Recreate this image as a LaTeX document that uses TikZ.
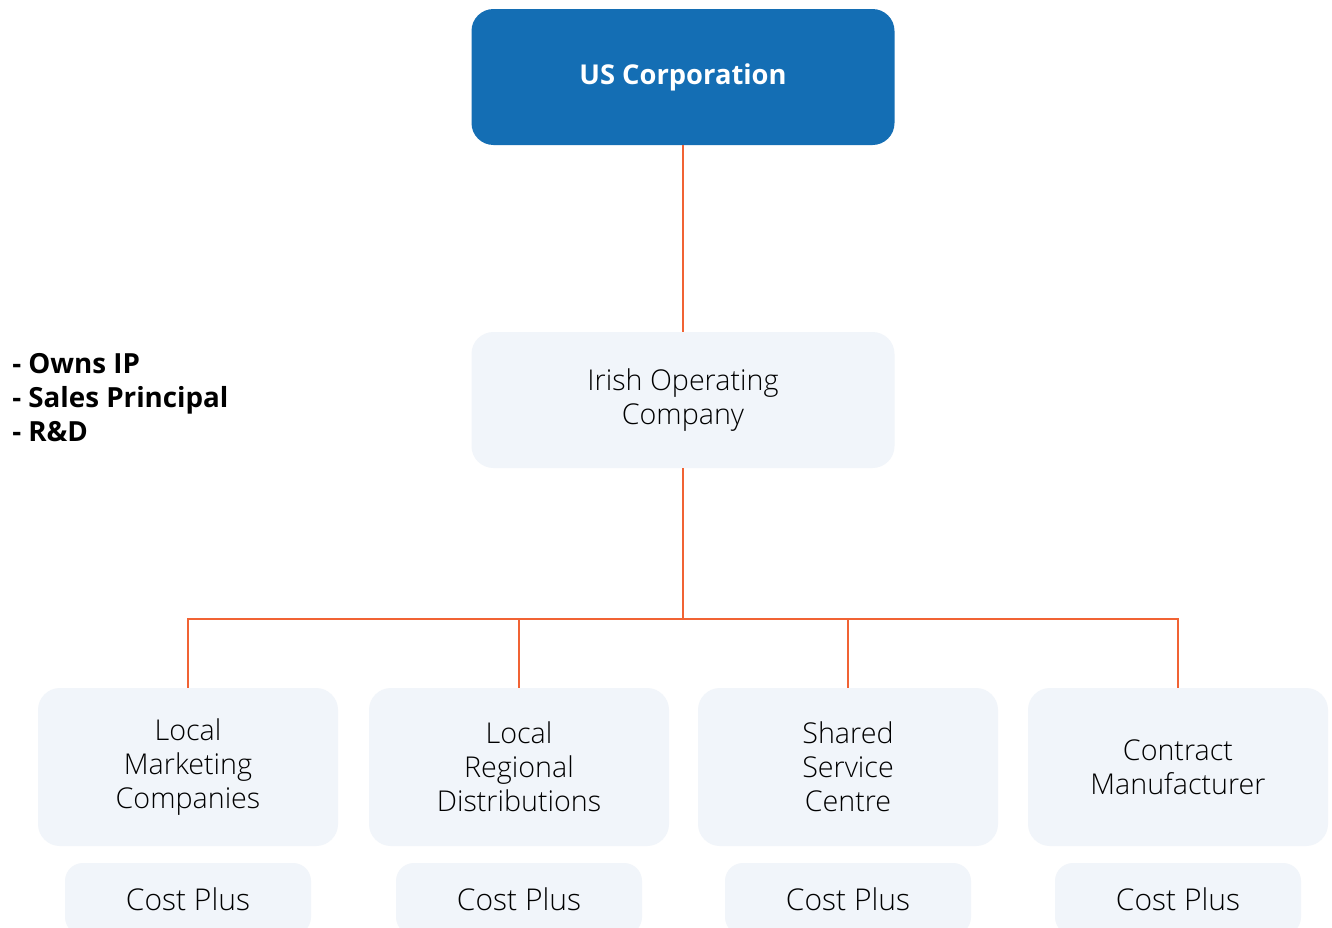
\documentclass[tikz,border=0pt]{standalone}
\usepackage{fontspec}
\setmainfont{Open Sans}[UprightFont=* Light, BoldFont=* Bold]
\definecolor{usblue}{RGB}{20,110,180}
\definecolor{boxfill}{RGB}{241,245,250}
\definecolor{linkorange}{RGB}{241,99,52}
\begin{document}
\begin{tikzpicture}[x=0.75pt,y=-0.75pt,
  bodyfont/.style={font=\fontsize{21.5}{25.5}\selectfont},
  topbox/.style={draw=none,fill=usblue,rounded corners=16.5pt,minimum width=317.25pt,minimum height=102pt,text=white,font=\fontsize{20.5}{25.5}\selectfont\bfseries,align=center,inner sep=0pt},
  midbox/.style={draw=none,fill=boxfill,rounded corners=16.5pt,minimum width=317.25pt,minimum height=102pt,bodyfont,align=center,inner sep=0pt},
  entbox/.style={draw=none,fill=boxfill,rounded corners=16.5pt,minimum width=225pt,minimum height=118.5pt,bodyfont,align=center,inner sep=0pt},
  costbox/.style={draw=none,fill=boxfill,rounded corners=13.5pt,minimum width=184.5pt,minimum height=54pt,font=\fontsize{22.5}{25.5}\selectfont,align=center,inner sep=0pt},
  link/.style={draw=linkorange,line width=2.1pt},
  notes/.style={font=\fontsize{20.8}{25.5}\selectfont\bfseries,align=left,inner sep=0pt,anchor=west}]
\clip (0,0) rectangle (1332,928);
\fill[white] (0,0) rectangle (1332,928);
\node[topbox] (us) at (683,77) {US Corporation};
\node[midbox] (irish) at (683,400) {Irish Operating\\Company};
\node[entbox] (lmc) at (188,767) {Local\\Marketing\\Companies};
\node[entbox] (lrd) at (519,767) {Local\\Regional\\Distributions};
\node[entbox] (ssc) at (848,767) {Shared\\Service\\Centre};
\node[entbox] (cm) at (1178,767) {Contract\\Manufacturer};
\node[costbox] (cp1) at (188,899) {Cost Plus};
\node[costbox] (cp2) at (519,899) {Cost Plus};
\node[costbox] (cp3) at (848,899) {Cost Plus};
\node[costbox] (cp4) at (1178,899) {Cost Plus};
\node[notes] (roles) at (12,398) {- Owns IP\\- Sales Principal\\- R\&D};
\coordinate (bus) at (683,619);
\draw[link] (us.south) -- (irish.north);
\draw[link] (irish.south) -- (bus);
\draw[link] (lmc.north) -- (lmc.north |- bus) -- (cm.north |- bus) -- (cm.north);
\draw[link] (lrd.north) -- (lrd.north |- bus);
\draw[link] (ssc.north) -- (ssc.north |- bus);
\end{tikzpicture}
\end{document}
